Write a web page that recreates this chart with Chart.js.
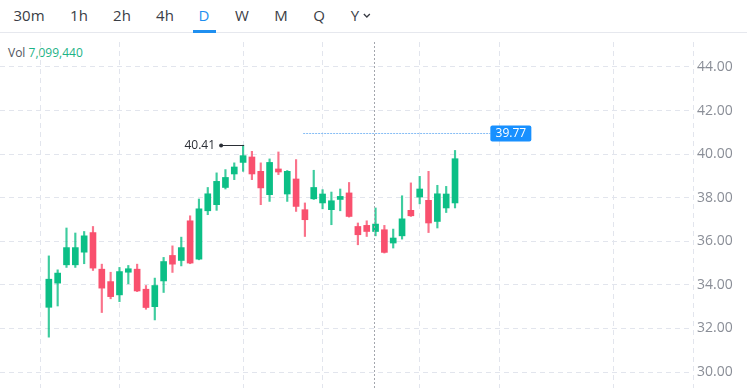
<!DOCTYPE html>
<html>
<head>
<meta charset="utf-8">
<script src="https://cdn.jsdelivr.net/npm/chart.js@4.4.1/dist/chart.umd.min.js"></script>
<style>
    html, body { margin: 0; padding: 0; background: #fff; }
    body { width: 747px; height: 388px; position: relative; overflow: hidden; font-family: 'Open Sans', sans-serif; }
    .toolbar { position: absolute; left: 0; top: 0; width: 747px; height: 32px; border-bottom: 1px solid #e6e8ee; }
    .toolbar span { position: absolute; top: 4px; font-size: 15px; color: #3a3d45; transform: translateX(-50%); line-height: 22px; }
    .toolbar span.active { color: #1f8ff0; }
    .underline { position: absolute; left: 193px; top: 30px; width: 23px; height: 3px; background: #1f8ff0; }
    .vol { position: absolute; left: 8px; top: 44px; font-size: 12px; color: #50545c; }
    .vol b { font-weight: normal; color: #1db386; }
    #wrap { position: absolute; left: 0; top: 34px; width: 747px; height: 354px; }
</style>
</head>
<body>
<div class="toolbar">
    <span style="left:29px">30m</span>
    <span style="left:79px">1h</span>
    <span style="left:122px">2h</span>
    <span style="left:165px">4h</span>
    <span class="active" style="left:204px">D</span>
    <span style="left:242px">W</span>
    <span style="left:281px">M</span>
    <span style="left:319px">Q</span>
    <span style="left:361px">Y <svg width="8" height="6" viewBox="0 0 8 6" style="vertical-align:2px"><polyline points="1,1 4,4 7,1" fill="none" stroke="#3a3d45" stroke-width="1.3"/></svg></span>
    <div class="underline"></div>
</div>
<div class="vol">Vol <b>7,099,440</b></div>
<div id="wrap"><canvas id="chart"></canvas></div>
<script>
const opens  = [32.97, 34.08, 34.92, 34.92, 35.50, 36.40, 34.72, 34.15, 33.54, 34.58, 34.72, 33.80, 33.00, 34.18, 35.35, 35.12,
                36.94, 35.18, 37.40, 37.68, 38.47, 39.09, 39.62, 39.87, 39.21, 38.14, 39.32, 38.17, 38.86, 37.45, 37.95, 37.76,
                37.45, 37.92, 38.22, 36.68, 36.73, 36.45, 36.53, 35.92, 36.25, 37.42, 38.03, 37.88, 36.91, 37.53, 37.76];
const highs  = [35.33, 34.69, 36.61, 36.38, 36.45, 36.68, 34.95, 34.58, 34.80, 34.89, 34.95, 33.97, 34.31, 35.26, 35.79, 36.19,
                37.17, 37.94, 38.47, 39.14, 39.29, 39.60, 40.41, 40.13, 39.60, 39.78, 40.10, 39.25, 39.75, 37.76, 39.26, 38.37,
                38.26, 38.40, 38.70, 36.84, 36.94, 37.53, 36.73, 36.56, 38.09, 38.68, 38.98, 39.21, 38.57, 38.52, 40.17];
const lows   = [31.60, 33.03, 34.80, 34.80, 34.97, 34.66, 32.73, 33.36, 33.23, 34.05, 33.69, 32.88, 32.39, 33.65, 34.57, 34.87,
                34.97, 35.15, 37.22, 37.42, 38.40, 38.83, 39.21, 38.83, 37.68, 37.83, 39.06, 37.83, 37.37, 36.22, 37.92, 37.49,
                36.76, 37.40, 37.11, 35.84, 36.22, 36.25, 35.46, 35.69, 36.10, 37.14, 37.72, 36.40, 36.61, 37.32, 37.53];
const closes = [34.26, 34.54, 35.71, 35.71, 36.25, 34.77, 33.85, 33.46, 34.61, 34.74, 33.72, 32.96, 33.97, 35.07, 34.95, 35.71,
                35.00, 37.49, 38.18, 38.75, 38.93, 39.41, 39.93, 39.09, 38.45, 39.62, 39.18, 39.21, 37.60, 36.99, 38.47, 38.17,
                37.86, 38.06, 37.14, 36.30, 36.45, 36.79, 35.49, 36.15, 37.03, 37.17, 38.40, 36.84, 38.18, 38.17, 39.79];

// candle indices where the date grid lines fall
const gridDays = [-1, 8, 22, 31, 42, 51, 64];
const priceTicks = [30, 32, 34, 36, 38, 40, 42, 44];

const crossIndex = 36.8;
const crossPrice = 40.99;
const lastLabel = '39.77';

const GREEN = '#0cbf86';
const RED = '#f9506e';
const GRID = '#e2e5ed';
const X_MIN = -5.53, X_MAX = 72.95;

const isUp = (i) => closes[i] >= opens[i];

const wicks = opens.map((o, i) => ({ x: i, y: [lows[i], highs[i]] }));
const bodies = opens.map((o, i) => ({ x: i, y: [o, closes[i]] }));

const annotations = {
    id: 'annotations',
    afterDatasetsDraw(chart) {
        const { ctx, chartArea, scales: { x, y } } = chart;
        ctx.save();

        // crosshair vertical
        ctx.strokeStyle = '#a3a6ad';
        ctx.lineWidth = 1;
        ctx.setLineDash([2, 2]);
        const cx = Math.round(x.getPixelForValue(crossIndex)) + 0.5;
        ctx.beginPath();
        ctx.moveTo(cx, chartArea.top);
        ctx.lineTo(cx, chartArea.bottom);
        ctx.stroke();

        // price line + tag
        const py = Math.round(y.getPixelForValue(crossPrice)) + 0.5;
        const boxL = x.getPixelForValue(50);
        ctx.strokeStyle = '#86bdf5';
        ctx.setLineDash([2, 1]);
        ctx.beginPath();
        ctx.moveTo(x.getPixelForValue(28.8), py);
        ctx.lineTo(boxL, py);
        ctx.stroke();
        ctx.setLineDash([]);
        ctx.fillStyle = '#1890ff';
        ctx.beginPath();
        ctx.roundRect(boxL, py - 8, 41, 16, 2);
        ctx.fill();
        ctx.fillStyle = '#fff';
        ctx.font = '12px "Open Sans"';
        ctx.textAlign = 'center';
        ctx.textBaseline = 'middle';
        ctx.fillText(lastLabel, boxL + 20.5, py + 0.5);

        // highest high marker
        let hi = 0;
        highs.forEach((h, i) => { if (h > highs[hi]) hi = i; });
        const hx = x.getPixelForValue(hi);
        const hy = Math.round(y.getPixelForValue(highs[hi])) + 0.5;
        ctx.strokeStyle = '#2b2f36';
        ctx.lineWidth = 1;
        ctx.beginPath();
        ctx.moveTo(hx + 1, hy);
        ctx.lineTo(hx - 22, hy);
        ctx.stroke();
        ctx.fillStyle = '#2b2f36';
        ctx.beginPath();
        ctx.arc(hx - 22, hy, 2, 0, Math.PI * 2);
        ctx.fill();
        ctx.font = '12px "Open Sans"';
        ctx.textAlign = 'right';
        ctx.fillText(highs[hi].toFixed(2), hx - 28, hy);

        ctx.restore();
    },
};

new Chart(document.getElementById('chart'), {
    type: 'bar',
    data: {
        datasets: [
            {
                data: wicks,
                backgroundColor: (c) => (isUp(c.dataIndex) ? 'rgba(12,191,134,0.8)' : 'rgba(249,80,110,0.8)'),
                barThickness: 1.5,
                grouped: false,
            },
            {
                data: bodies,
                backgroundColor: (c) => (isUp(c.dataIndex) ? GREEN : RED),
                barThickness: 6,
                minBarLength: 1,
                grouped: false,
            },
        ],
    },
    options: {
        responsive: true,
        maintainAspectRatio: false,
        animation: false,
        layout: { padding: { top: 8, left: 0, right: 0, bottom: 0 } },
        plugins: {
            legend: { display: false },
            tooltip: { enabled: false },
        },
        scales: {
            x: {
                type: 'linear',
                offset: false,
                min: X_MIN,
                max: X_MAX,
                afterBuildTicks: (scale) => {
                    scale.ticks = gridDays.concat([X_MAX]).map((v) => ({ value: v }));
                },
                afterFit: (scale) => {
                    scale.height = 0;
                    scale.paddingLeft = 0;
                    scale.paddingRight = 0;
                },
                ticks: { display: false },
                grid: { color: GRID, drawTicks: false, lineWidth: 1, offset: false },
                border: { display: false, dash: [5, 4] },
            },
            y: {
                position: 'right',
                min: 29.266,
                max: 45.147,
                afterBuildTicks: (scale) => {
                    scale.ticks = priceTicks.map((v) => ({ value: v }));
                },
                afterFit: (scale) => {
                    scale.width = 54;
                    scale.paddingTop = 0;
                    scale.paddingBottom = 0;
                },
                ticks: {
                    padding: 4,
                    color: '#8a8e97',
                    font: { family: 'Open Sans', size: 14 },
                    callback: (v) => v.toFixed(2),
                },
                grid: { color: GRID, drawTicks: false, lineWidth: 1 },
                border: { display: false, dash: [5, 4] },
            },
        },
    },
    plugins: [annotations],
});
</script>
</body>
</html>
